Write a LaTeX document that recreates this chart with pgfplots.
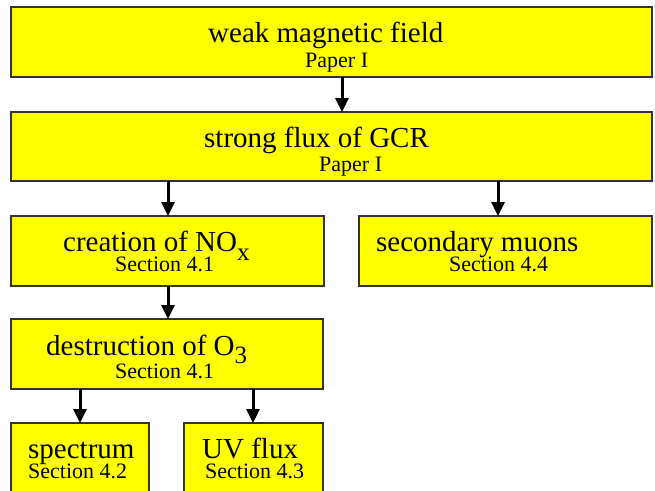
\documentclass[border=0pt]{standalone}
\usepackage{fontspec}
\setmainfont{Liberation Serif}
\usepackage{pgfplots}
\pgfplotsset{compat=1.18}
\usetikzlibrary{arrows.meta}
\definecolor{boxfill}{HTML}{FFFF00}
\definecolor{boxline}{HTML}{333333}

\newcommand{\bigtxt}{\fontsize{29}{32}\selectfont}
\newcommand{\smalltxt}{\fontsize{22}{24}\selectfont}
\newcommand{\subtxt}{\fontsize{25}{26}\selectfont}

\begin{document}
\begin{tikzpicture}[
  box/.style={fill=boxfill, draw=boxline, line width=1.2pt},
  arr/.style={line width=3pt, -{Triangle[width=13pt,length=14pt]}},
  lbl/.style={anchor=base west, inner sep=0pt},
]
\begin{axis}[
  width=655pt, height=490pt, scale only axis,
  xmin=0, xmax=655, ymin=0, ymax=490, y dir=reverse,
  hide axis, clip=true,
]
% boxes
\addplot[box] coordinates {(11,7)(652,7)(652,77)(11,77)} -- cycle;
\addplot[box] coordinates {(11,112)(652,112)(652,181)(11,181)} -- cycle;
\addplot[box] coordinates {(11,216)(324,216)(324,286)(11,286)} -- cycle;
\addplot[box] coordinates {(359,216)(652,216)(652,286)(359,286)} -- cycle;
\addplot[box] coordinates {(11,319)(323,319)(323,389)(11,389)} -- cycle;
\addplot[box] coordinates {(11,423)(149,423)(149,520)(11,520)} -- cycle;
\addplot[box] coordinates {(184,423)(323,423)(323,520)(184,520)} -- cycle;
% arrows
\addplot[arr] coordinates {(342,77)(342,112)};
\addplot[arr] coordinates {(168,181)(168,216)};
\addplot[arr] coordinates {(498,181)(498,216)};
\addplot[arr] coordinates {(168,286)(168,319)};
\addplot[arr] coordinates {(80,389)(80,423)};
\addplot[arr] coordinates {(253,389)(253,423)};
% labels
\node[lbl] at (axis cs:208,42) {\bigtxt weak magnetic field};
\node[lbl] at (axis cs:305,67) {\smalltxt Paper I};
\node[lbl] at (axis cs:204,147) {\bigtxt strong flux of GCR};
\node[lbl] at (axis cs:319,171) {\smalltxt Paper I};
\node[lbl] at (axis cs:63,251) {\bigtxt creation of NO\raisebox{-9pt}{\subtxt x}};
\node[lbl] at (axis cs:115,271) {\smalltxt Section 4.1};
\node[lbl] at (axis cs:376,251) {\bigtxt secondary muons};
\node[lbl] at (axis cs:449,271) {\smalltxt Section 4.4};
\node[lbl] at (axis cs:46,355) {\bigtxt destruction of O\raisebox{-8pt}{\subtxt 3}};
\node[lbl] at (axis cs:115,378) {\smalltxt Section 4.1};
\node[lbl] at (axis cs:28,458) {\bigtxt spectrum};
\node[lbl] at (axis cs:28,478) {\smalltxt Section 4.2};
\node[lbl] at (axis cs:202,458) {\bigtxt UV flux};
\node[lbl] at (axis cs:205,478) {\smalltxt Section 4.3};
\end{axis}
\pgfresetboundingbox
\useasboundingbox (current axis.south west) rectangle (current axis.north east);
\end{tikzpicture}
\end{document}
